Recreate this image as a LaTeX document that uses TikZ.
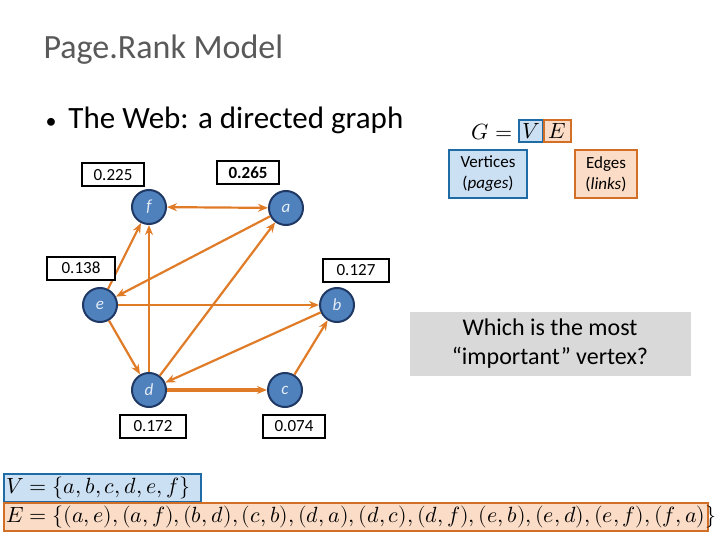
\documentclass[tikz,border=0pt]{standalone}
\usepackage{fontspec}
\setmainfont{Carlito}
\usepackage{unicode-math}
\setmathfont{Latin Modern Math}
\usetikzlibrary{arrows.meta}
\definecolor{org}{HTML}{E07B28}
\definecolor{nfill}{HTML}{4F81BD}
\definecolor{nbord}{HTML}{1F3864}
\definecolor{lblue}{HTML}{CCE0F4}
\definecolor{bblue}{HTML}{1F6BA5}
\definecolor{lorg}{HTML}{FBDCC6}
\definecolor{borg}{HTML}{D26E25}
\begin{document}
\begin{tikzpicture}[x=1pt,y=-1pt,
  v/.style={circle,fill=nfill,draw=nbord,line width=2pt,minimum size=34pt,inner sep=0pt,text=white!85!nfill,font=\fontsize{17}{17}\selectfont\itshape},
  sc/.style={draw=black,line width=2pt,fill=white,minimum width=62pt,minimum height=23pt,inner sep=0pt,font=\fontsize{17}{17}\selectfont},
  e/.style={draw=org,line width=2.2pt,-{Stealth[length=10pt,width=8pt]}},
  eb/.style={e,{Stealth[length=10pt,width=8pt]}-{Stealth[length=10pt,width=8pt]}}]
\useasboundingbox (0,0) rectangle (720,540);
\node[anchor=west,text=black!65,font=\fontsize{34}{34}\selectfont] (t) at (40,50) {Page.Rank Model};
\node[anchor=west,font=\fontsize{31}{31}\selectfont] (bul) at (42,120) {{\fontsize{22}{22}\selectfont •}\hspace{12pt}The Web: a directed graph};
% graph
\node[v] (f) at (149,207) {f};
\node[v] (a) at (286,208) {a};
\node[v] (e) at (100,305) {e};
\node[v] (b) at (337,305) {b};
\node[v] (d) at (149,390) {d};
\node[v] (c) at (285,390) {c};
\draw[eb] (f) -- (a);
\draw[e] (a) -- (e);
\draw[e] (e) -- (f);
\draw[e] (e) -- (b);
\draw[e] (e) -- (d);
\draw[e] (d) -- (f);
\draw[e] (d) -- (a);
\draw[e] (b) -- (d);
\draw[e,line width=3.2pt] (d) -- (c);
\draw[e] (c) -- (b);
\node[sc] (s1) at (113,175) {0.225};
\node[sc,font=\fontsize{17}{17}\selectfont\bfseries] (s2) at (248,173) {0.265};
\node[sc,minimum width=68pt] (s3) at (81,268) {0.138};
\node[sc,minimum width=66pt] (s4) at (356,270) {0.127};
\node[sc,minimum width=66pt] (s5) at (153,426) {0.172};
\node[sc] (s6) at (294,426) {0.074};
% G=(V,E)
\node[fill=lblue,draw=bblue,line width=2pt,minimum width=24pt,minimum height=22pt,inner sep=0pt,font=\fontsize{22}{22}\selectfont] (vb) at (531,131) {$V$};
\node[fill=lorg,draw=borg,line width=2pt,minimum width=27pt,minimum height=22pt,inner sep=0pt,font=\fontsize{22}{22}\selectfont] (eb) at (557,131) {$E$};
\node[anchor=east,font=\fontsize{22}{22}\selectfont] (g) at (516,132) {$G=$};
\node[fill=lblue,draw=bblue,line width=2pt,minimum width=78pt,minimum height=48pt,align=center,inner sep=1pt,font=\fontsize{17}{21}\selectfont] (vt) at (488,174) {Vertices\\(\textit{pages})};
\node[fill=lorg,draw=borg,line width=2pt,minimum width=62pt,minimum height=48pt,align=center,inner sep=1pt,font=\fontsize{17}{21}\selectfont] (et) at (606,174) {Edges\\(\textit{links})};
\node[fill=black!15,minimum width=281pt,minimum height=64pt,align=center,font=\fontsize{24}{29}\selectfont] (q) at (550,344) {Which is the most\\“important” vertex?};
% sets
\node[fill=lblue,draw=bblue,line width=2pt,anchor=north west,minimum width=197pt,minimum height=28pt,inner sep=1pt,text width=193pt,font=\fontsize{22}{22}\selectfont] (vs) at (3,473) {$V=\{a,b,c,d,e,f\}$};
\node[fill=lorg,draw=borg,line width=2pt,anchor=north west,minimum width=704pt,minimum height=28pt,inner sep=1pt,text width=700pt,font=\fontsize{22}{22}\selectfont] (es) at (3,502) {$E=\{(a,e),(a,f),(b,d),(c,b),(d,a),(d,c),(d,f),(e,b),(e,d),(e,f),(f,a)\}$};
\end{tikzpicture}
\end{document}
